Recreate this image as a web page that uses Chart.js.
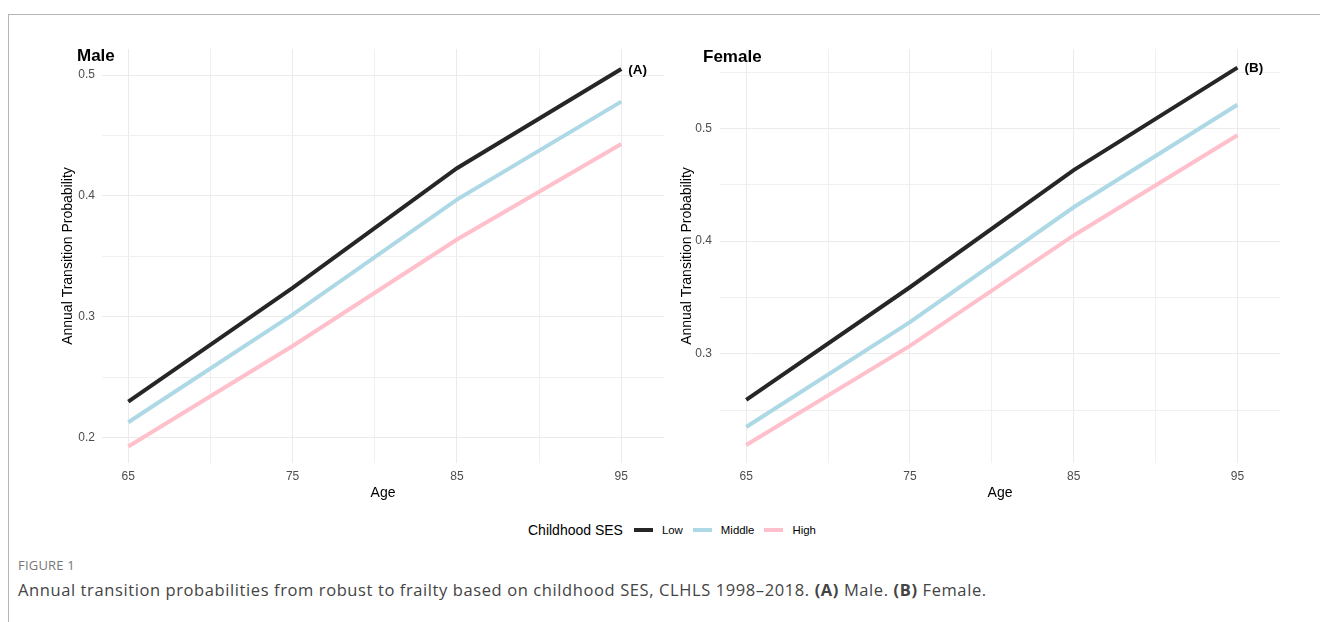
<!DOCTYPE html>
<html>
<head>
<meta charset="utf-8">
<script src="https://cdn.jsdelivr.net/npm/chart.js@4.4.0/dist/chart.umd.min.js"></script>
<style>
  body { margin: 0; width: 1320px; height: 622px; background: #fff; position: relative; overflow: hidden;
         font-family: 'Liberation Sans', Arial, sans-serif; }
  .frame { position: absolute; left: 8px; top: 14px; right: 0; bottom: 0;
           border-top: 1px solid #b5b5b5; border-left: 1px solid #b5b5b5; }
  canvas { position: absolute; }
  .ptitle { position: absolute; font-weight: bold; font-size: 17px; line-height: 20px; color: #000; }
  .legend { position: absolute; left: 528px; top: 521px; height: 18px; display: flex; align-items: center; color: #000; }
  .legend .lt { font-size: 14px; margin-right: 11px; }
  .legend .sw { width: 19px; height: 4px; margin-right: 9px; }
  .legend .lb { font-size: 11.4px; margin-right: 10px; }
  .fig { position: absolute; left: 18px; top: 558px; font-family: 'Open Sans', sans-serif; font-size: 13px;
         line-height: 14px; color: #777; letter-spacing: 0.2px; }
  .cap { position: absolute; left: 18px; top: 580px; font-family: 'Open Sans', sans-serif; font-size: 16.5px;
         line-height: 20px; color: #444; white-space: nowrap; letter-spacing: 0.6px; }
</style>
</head>
<body>
<div class="frame"></div>
<canvas id="male" width="630" height="480" style="left:40px;top:40px"></canvas>
<canvas id="female" width="630" height="480" style="left:670px;top:40px"></canvas>
<div class="ptitle" style="left:77px;top:46px">Male</div>
<div class="ptitle" style="left:703px;top:47px">Female</div>
<div class="legend" id="legend"></div>
<div class="fig">FIGURE 1</div>
<div class="cap">Annual transition probabilities from robust to frailty based on childhood SES, CLHLS 1998–2018. <b>(A)</b> Male. <b>(B)</b> Female.</div>
<script>
// ages where the estimates are given
const ages = [65, 75, 85, 95];
const ageBreaks = [65, 70, 75, 80, 85, 90, 95];
const ageLabels = [65, 75, 85, 95];

const sesGroups = ['Low', 'Middle', 'High'];
const sesColors = ['#262626', '#add8e6', '#ffc0cb'];

// Male panel
const maleLow = [0.230, 0.324, 0.423, 0.505];
const maleMiddle = [0.213, 0.302, 0.397, 0.478];
const maleHigh = [0.193, 0.276, 0.364, 0.443];
const maleYBreaks = [0.2, 0.25, 0.3, 0.35, 0.4, 0.45, 0.5];
const maleYLabels = [0.2, 0.3, 0.4, 0.5];

// Female panel
const femaleLow = [0.259, 0.359, 0.463, 0.554];
const femaleMiddle = [0.235, 0.328, 0.430, 0.521];
const femaleHigh = [0.219, 0.307, 0.405, 0.494];
const femaleYBreaks = [0.25, 0.3, 0.35, 0.4, 0.45, 0.5, 0.55];
const femaleYLabels = [0.3, 0.4, 0.5];

Chart.defaults.font.family = "'Liberation Sans', Arial, sans-serif";

const toPoints = vals => vals.map((v, i) => ({ x: ages[i], y: v }));

// writes (A)/(B) next to the end of the Low line
const tagPlugin = {
  id: 'panelTag',
  afterDatasetsDraw(chart, args, opts) {
    const ds = chart.data.datasets[0].data;
    const last = ds[ds.length - 1];
    const x = chart.scales.x.getPixelForValue(last.x) + 7;
    const y = chart.scales.y.getPixelForValue(last.y) + 1;
    const c = chart.ctx;
    c.save();
    c.font = "bold 13.5px 'Liberation Sans', Arial, sans-serif";
    c.fillStyle = '#000';
    c.textBaseline = 'middle';
    c.fillText(opts.text, x, y);
    c.restore();
  }
};

function makePanel(id, series, yMin, yMax, yBreaks, yLabels, tag, yWidth, yTitlePad, yTickPad, padRight) {
  new Chart(document.getElementById(id), {
    type: 'line',
    data: {
      datasets: series.map((vals, i) => ({
        label: sesGroups[i],
        data: toPoints(vals),
        borderColor: sesColors[i],
        backgroundColor: sesColors[i],
        borderWidth: 4,
        pointRadius: 0,
        tension: 0,
        fill: false
      }))
    },
    options: {
      responsive: false,
      animation: false,
      devicePixelRatio: 1,
      layout: { padding: { top: 9, right: padRight, left: 0, bottom: 0 } },
      plugins: {
        legend: { display: false },
        tooltip: { enabled: false },
        panelTag: { text: tag }
      },
      scales: {
        x: {
          type: 'linear',
          min: 63.4,
          max: 97.6,
          afterBuildTicks: s => { s.ticks = ageBreaks.map(v => ({ value: v })); },
          afterFit: s => { s.height = 57; s.paddingLeft = 0; s.paddingRight = 0; },
          border: { display: false },
          grid: {
            drawTicks: false,
            color: c => ageLabels.includes(c.tick.value) ? '#ebebeb' : '#f0f0f0',
            lineWidth: 1
          },
          ticks: {
            autoSkip: false,
            maxRotation: 0,
            padding: 6,
            color: '#4d4d4d',
            font: { size: 12 },
            callback: v => ageLabels.includes(v) ? String(v) : ''
          },
          title: {
            display: true,
            text: 'Age',
            color: '#000',
            font: { size: 14 },
            padding: { top: 0, bottom: 18 }
          }
        },
        y: {
          type: 'linear',
          min: yMin,
          max: yMax,
          afterBuildTicks: s => { s.ticks = yBreaks.map(v => ({ value: v })); },
          afterFit: s => { s.width = yWidth; s.paddingTop = 0; s.paddingBottom = 0; },
          border: { display: false },
          grid: {
            drawTicks: false,
            color: c => yLabels.includes(c.tick.value) ? '#ebebeb' : '#f0f0f0',
            lineWidth: 1
          },
          ticks: {
            autoSkip: false,
            padding: yTickPad,
            color: '#4d4d4d',
            font: { size: 12 },
            callback: v => yLabels.includes(v) ? String(v) : ''
          },
          title: {
            display: true,
            text: 'Annual Transition Probability',
            color: '#000',
            font: { size: 14 },
            padding: { top: yTitlePad, bottom: 0 }
          }
        }
      }
    },
    plugins: [tagPlugin]
  });
}

makePanel('male', [maleLow, maleMiddle, maleHigh], 0.1793, 0.5215, maleYBreaks, maleYLabels, '(A)', 62, 19.5, 7, 6);
makePanel('female', [femaleLow, femaleMiddle, femaleHigh], 0.203, 0.5705, femaleYBreaks, femaleYLabels, '(B)', 50, 8.5, 8, 20);

// shared legend
const legend = document.getElementById('legend');
legend.innerHTML = '<span class="lt">Childhood SES</span>' +
  sesGroups.map((g, i) => `<span class="sw" style="background:${sesColors[i]}"></span><span class="lb">${g}</span>`).join('');
</script>
</body>
</html>
